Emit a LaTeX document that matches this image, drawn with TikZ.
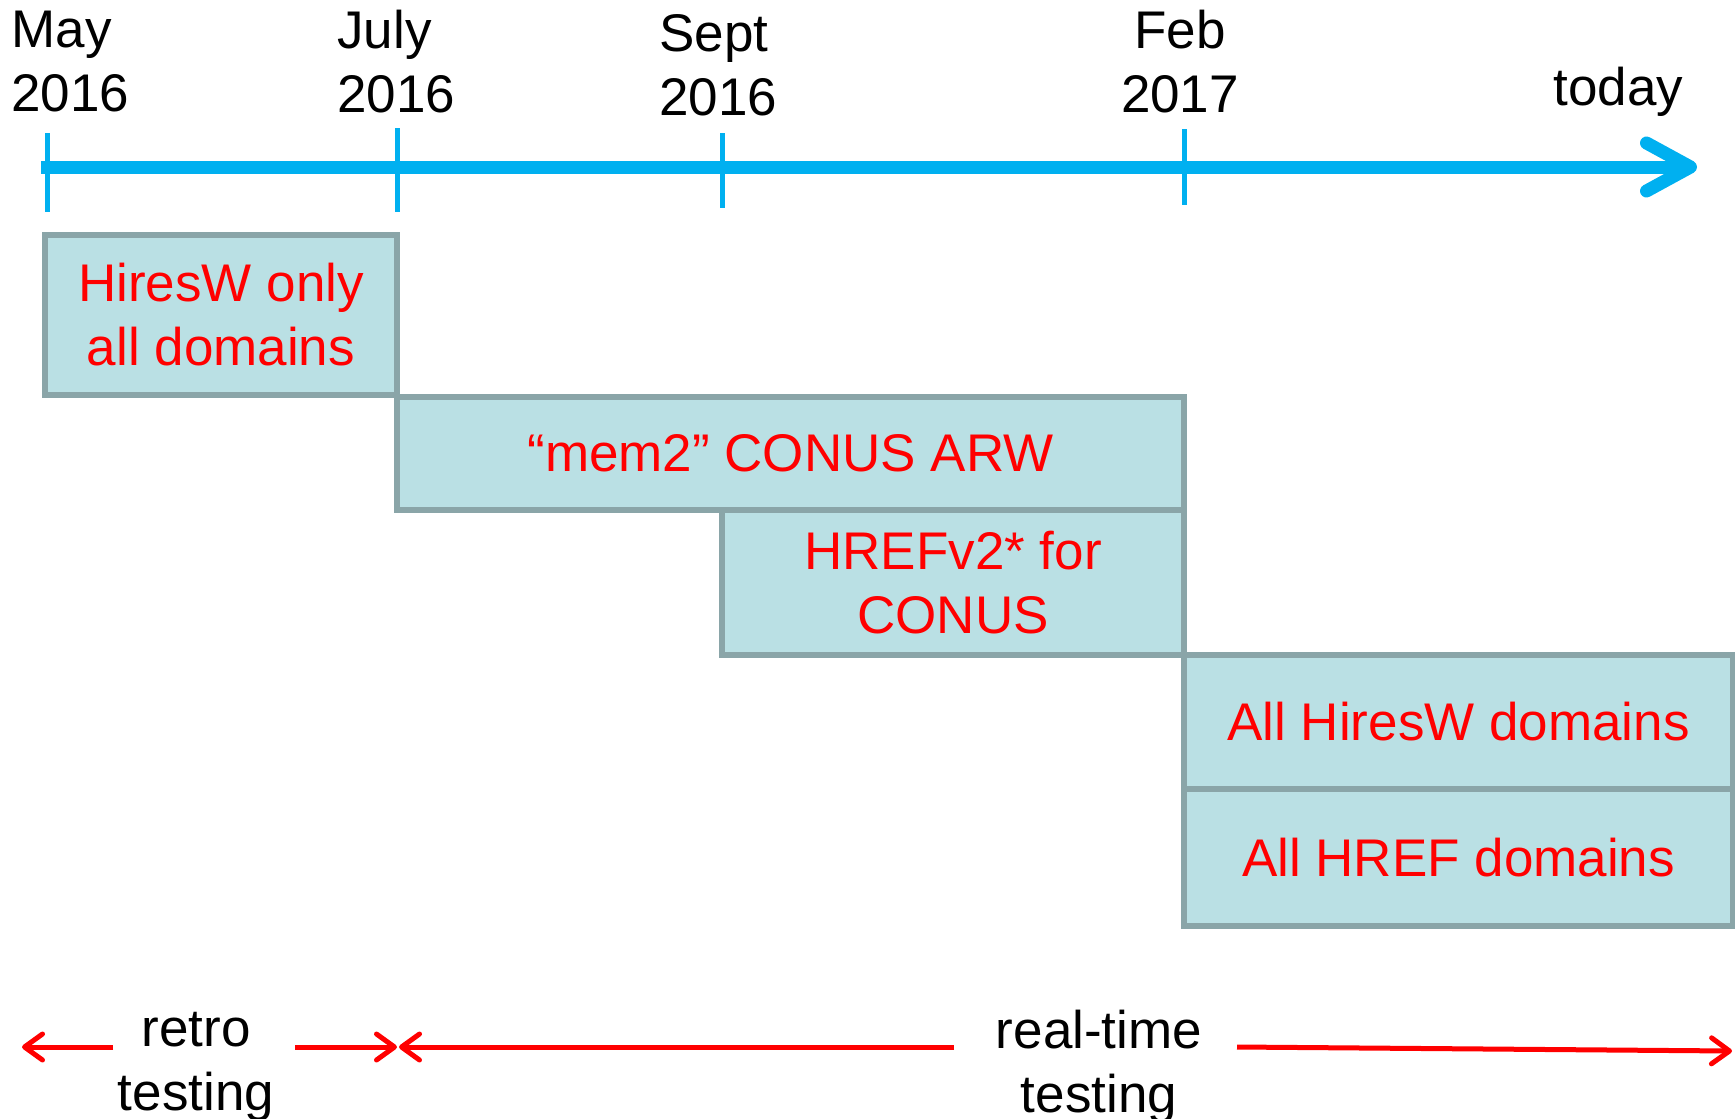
\documentclass[tikz,border=0pt]{standalone}
\usepackage{fontspec}
\setmainfont{Liberation Sans}
\usetikzlibrary{arrows.meta}
\definecolor{lineblue}{HTML}{00B0F0}
\definecolor{boxfill}{HTML}{BAE0E4}
\definecolor{boxedge}{HTML}{8AA5A8}

\begin{document}
\begin{tikzpicture}[x=0.5pt,y=-0.5pt,
  every node/.style={font=\fontsize{26.5}{32}\selectfont,inner sep=0pt},
  period/.style={draw=boxedge,line width=2.6pt,fill=boxfill,text=red,align=center},
  datelabel/.style={align=left,anchor=north west},
  monthtick/.style={lineblue,line width=2.5pt},
  spanarrow/.style={red,line width=2.5pt,-{Straight Barb[length=9pt,width=13pt,round]}}]
\useasboundingbox (0,0) rectangle (1735,1119);

\coordinate (tl-start) at (41,167);
\coordinate (tl-end) at (1697,167);
\draw[lineblue,line width=6.5pt,-{Straight Barb[length=22pt,width=24pt,round]}](tl-start)--(tl-end);
\foreach \x/\top/\bot in {47/133/212,397/128/212,722/133/208,1184/129/205}
  \draw[monthtick](\x,\top)--(\x,\bot);

\node[datelabel] (may) at (11,11) {May\\2016};
\node[datelabel] (july) at (337,10) {July\\2016};
\node[datelabel] (sept) at (659,14) {Sept\\2016};
\node[align=center,anchor=north] (feb) at (1180,10) {Feb\\2017};
\node[anchor=base west] (today) at (1553,105) {today};

\node[period,minimum width=176pt,minimum height=80pt] (hiresw) at (221,315) {HiresW only\\all domains};
\node[period,minimum width=393.5pt,minimum height=56.5pt] (mem) at (790.5,453.5) {“mem2” CONUS ARW};
\node[period,minimum width=231pt,minimum height=72.5pt] (hrefv) at (953,582.5) {HREFv2* for\\CONUS};
\node[period,minimum width=274.5pt,minimum height=67pt] (allhiresw) at (1458.5,722) {All HiresW domains};
\node[period,minimum width=274.5pt,minimum height=68.5pt] (allhref) at (1458.5,857.5) {All HREF domains};

\node[align=center,anchor=north] (retro) at (196,1012) {retro\\testing};
\node[align=center,anchor=north] (realtime) at (1099,1010) {real-time\\testing};

\coordinate (r-a) at (113,1047);
\coordinate (r-b) at (22,1047);
\coordinate (r-c) at (295,1047);
\coordinate (r-d) at (397,1047);
\coordinate (t-a) at (954,1047);
\coordinate (t-b) at (399,1047);
\coordinate (t-c) at (1237,1047);
\coordinate (t-d) at (1732,1051);
\draw[spanarrow](r-a)--(r-b);
\draw[spanarrow](r-c)--(r-d);
\draw[spanarrow](t-a)--(t-b);
\draw[spanarrow](t-c)--(t-d);
\end{tikzpicture}
\end{document}
